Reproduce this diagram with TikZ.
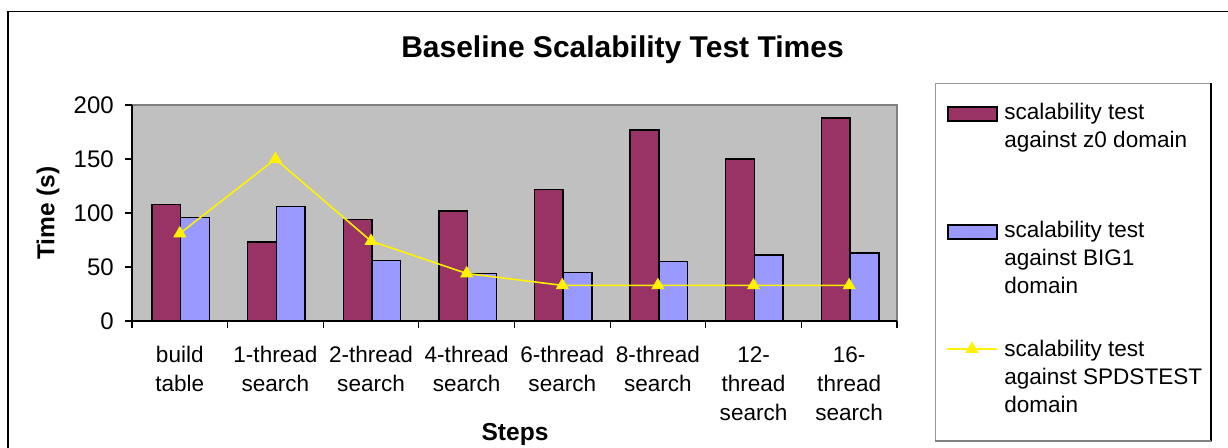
\documentclass[tikz,border=0pt]{standalone}
\usepackage{fontspec}
\setmainfont{Liberation Sans}
\usetikzlibrary{positioning, shapes.geometric}

\definecolor{zmaroon}{RGB}{153,51,102}
\definecolor{bigblue}{RGB}{153,153,255}
\definecolor{areagray}{RGB}{192,192,192}

\tikzset{
  barbox/.style={draw=black, line width=1.1pt},
  spdmark/.style={regular polygon, regular polygon sides=3, fill=yellow, inner sep=0pt, minimum size=11.5pt},
  ticklbl/.style={anchor=east, inner sep=0pt, font=\fontsize{18}{21}\selectfont},
  catlbl/.style={anchor=base, inner sep=0pt, align=center, font=\fontsize{16.9}{21.75}\selectfont},
  legtxt/.style={anchor=base west, inner sep=0pt, align=left, font=\fontsize{16.9}{21}\selectfont},
  axtitle/.style={inner sep=0pt, font=\fontsize{18.4}{22}\selectfont\bfseries}
}

\begin{document}
\begin{tikzpicture}[x=0.75pt, y=-0.75pt]
  \useasboundingbox (0,0) rectangle (1228,448);
  % Frame
  \draw[line width=1pt] (8,448) -- (8,11.5) -- (1228,11.5);

  % Title
  \node[anchor=base, inner sep=0pt, font=\fontsize{22.5}{27}\selectfont\bfseries] (title) at (622.5,58) {Baseline Scalability Test Times};

  % Plot area and axes
  \fill[areagray] (132,105) rectangle (897,321);
  \draw[gray, line width=0.8pt] (132,105) -- (897,105) -- (897,321);
  \draw[line width=1pt] (132,105) -- (132,321) -- (897,321);
  \foreach \v in {0,50,...,200}
  {
    \draw[line width=0.8pt] (125,{321-1.08*\v}) -- (132,{321-1.08*\v});
    \node[ticklbl] (tick\v) at (114,{321-1.08*\v}) {\v};
  }
  \foreach \i in {0,...,8}
    \draw[line width=0.8pt] ({132+95.625*\i},321) -- ({132+95.625*\i},328);

  % Bars and categories (label placed at the baseline of its last line)
  \foreach \i/\zv/\bv/\sv/\nl/\lbl in {
      0/108/96/81/2/{build\\table},
      1/73/106/150/2/{1-thread\\search},
      2/94/56/74/2/{2-thread\\search},
      3/102/44/44/2/{4-thread\\search},
      4/122/45/33/2/{6-thread\\search},
      5/177/55/33/2/{8-thread\\search},
      6/150/61/33/3/{12-\\thread\\search},
      7/188/63/33/3/{16-\\thread\\search}}
  {
    \pgfmathsetmacro\cx{132+95.625*\i}
    \draw[barbox, fill=zmaroon] (\cx+20,321) rectangle (\cx+48.7,{321-1.08*\zv});
    \draw[barbox, fill=bigblue] (\cx+48.7,321) rectangle (\cx+77.4,{321-1.08*\bv});
    \coordinate (s\i) at (\cx+47.8,{321-1.08*\sv});
    \node[catlbl] (cat\i) at (\cx+47.8,{363+29*(\nl-1)}) {\lbl};
  }

  % SPDSTEST series
  \draw[yellow, line width=1.2pt] (s0) -- (s1) -- (s2) -- (s3) -- (s4) -- (s5) -- (s6) -- (s7);
  \foreach \i in {0,...,7}
    \node[spdmark] (m\i) at (s\i) {};

  % Axis titles
  \node[axtitle, rotate=90] (ytitle) at (48,213) {Time (s)};
  \node[axtitle, anchor=base] (xtitle) at (515,441) {Steps};

  % Legend
  \draw[gray!80, line width=0.6pt] (935,83) rectangle (1211,441);
  \draw[line width=0.8pt] (1211,83) -- (1211,441);
  \draw[gray, line width=1.5pt] (935,441) -- (1211,441);
  \draw[barbox, fill=zmaroon] (948,107) rectangle (997,121);
  \node[legtxt] (leg1) at (1004,148) {scalability test\\against z0 domain};
  \draw[barbox, fill=bigblue] (948,225) rectangle (997,239);
  \node[legtxt] (leg2) at (1004,294) {scalability test\\against BIG1\\domain};
  \coordinate (la) at (947,349);
  \coordinate (lb) at (997,349);
  \draw[yellow, line width=1.2pt] (la) -- (lb);
  \node[spdmark] (lm) at (972,349) {};
  \node[legtxt] (leg3) at (1004,413) {scalability test\\against SPDSTEST\\domain};
\end{tikzpicture}
\end{document}
